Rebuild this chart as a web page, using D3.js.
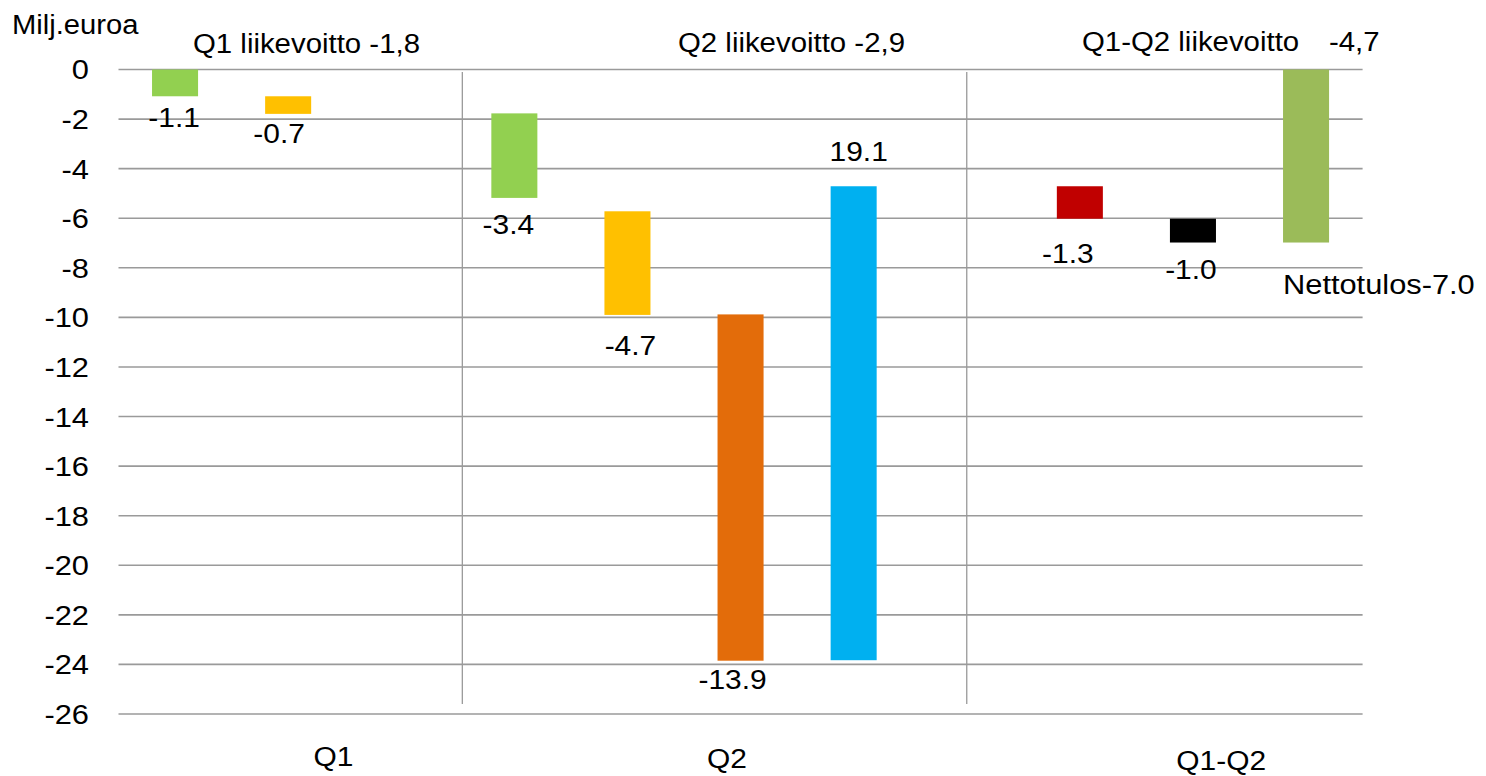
<!DOCTYPE html>
<html><head><meta charset="utf-8">
<script src="https://cdn.jsdelivr.net/npm/d3@7"></script>
<style>
html,body{margin:0;padding:0;background:#fff;}
text{font-family:"Liberation Sans",Arial,sans-serif;fill:#000;}
</style></head>
<body>
<svg id="chart" width="1486" height="776"></svg>
<script>
// ---- data ----
const categories = ["Q1", "Q2", "Q1-Q2"];
const yTicks = [0, -2, -4, -6, -8, -10, -12, -14, -16, -18, -20, -22, -24, -26];
const barSlot  = [0, 1, 3, 4, 5, 6, 8, 9, 10];
const barStart = [0, -1.08, -1.77, -5.72, -9.88, -23.83, -4.71, -6.02, 0];
const barEnd   = [-1.08, -1.79, -5.18, -9.9, -23.85, -4.71, -6.02, -6.98, -6.98];
const barLabels = ["-1.1", "-0.7", "-3.4", "-4.7", "-13.9", "19.1", "-1.3", "-1.0", "Nettotulos-7.0"];
const barColors = ["#92D050", "#FFC000", "#92D050", "#FFC000", "#E36C0A", "#00B0F0", "#C00000", "#000000", "#9BBB59"];
const periodTitles = ["Q1 liikevoitto -1,8", "Q2 liikevoitto -2,9", "Q1-Q2 liikevoitto", "-4,7"];
const unitLabel = "Milj.euroa";

// ---- layout (not data) ----
const nSlots = 11;
const separatorSlots = [3.04, 7.5];
const categorySlots = [1.9, 5.38, 9.75];
const categoryBaselines = [766, 768, 770];
const labelDx = [-1, -9, -6, 3, -8, 5, -12, -2, 0];
const labelDy = [31, 29, 36, 40, 28, -25, 44, 36, 51];
const titleX = [193, 678, 1082, 1329];
const titleY = [53, 52, 51, 51];
const FS = 28, SX = 1.07;

const svg = d3.select("#chart");
const x0 = 118.5, x1 = 1362.6;
const xLin = d3.scaleLinear().domain([0, nSlots]).range([x0, x1]);
const x = d3.scaleBand().domain(d3.range(nSlots)).range([x0, x1])
  .paddingInner(0.593).paddingOuter(0.2965);
const y = d3.scaleLinear().domain([0, -26]).range([69.5, 714]);

function txt(g, s, tx, ty, anchor, size, sx) {
  return g.append("text")
    .attr("transform", `translate(${tx},${ty}) scale(${sx || SX},1)`)
    .attr("text-anchor", anchor || "start")
    .style("font-size", (size || FS) + "px")
    .text(s);
}

// gridlines
svg.append("g").selectAll("line").data(yTicks).join("line")
  .attr("x1", x0).attr("x2", x1)
  .attr("y1", d => y(d)).attr("y2", d => y(d))
  .attr("stroke", "#9a9a9a").attr("stroke-width", 1.6);

// separators
svg.append("g").selectAll("line").data(separatorSlots).join("line")
  .attr("x1", d => xLin(d)).attr("x2", d => xLin(d))
  .attr("y1", y(-0.1)).attr("y2", y(-25.6))
  .attr("stroke", "#9a9a9a").attr("stroke-width", 1.3);

// y axis tick labels
const yl = svg.append("g");
yTicks.forEach(t => {
  txt(yl, String(t), 89, y(t), "end", FS, 1.1).attr("dominant-baseline", "central");
});

// bars
const bars = barSlot.map((s, i) => ({slot: s, a: barStart[i], b: barEnd[i], label: barLabels[i], color: barColors[i], i}));
svg.append("g").selectAll("rect").data(bars).join("rect")
  .attr("x", d => x(d.slot)).attr("width", x.bandwidth())
  .attr("y", d => y(Math.max(d.a, d.b)))
  .attr("height", d => Math.abs(y(d.a) - y(d.b)))
  .attr("fill", d => d.color);

// bar labels
const bl = svg.append("g");
bars.forEach(d => {
  const last = d.i === bars.length - 1;
  const ref = labelDy[d.i] < 0 ? y(Math.max(d.a, d.b)) : y(Math.min(d.a, d.b));
  const cx = last ? x(d.slot) : x(d.slot) + x.bandwidth() / 2 + labelDx[d.i];
  txt(bl, d.label, cx, ref + labelDy[d.i], last ? "start" : "middle", FS, last ? 1.1 : SX);
});

// titles
const tl = svg.append("g");
periodTitles.forEach((t, i) => txt(tl, t, titleX[i], titleY[i], "start", FS, 1.05));
txt(tl, unitLabel, 12, 34, "start", 27, 1.08);

// category labels
const cl = svg.append("g");
categories.forEach((c, i) => txt(cl, c, xLin(categorySlots[i]), categoryBaselines[i], "middle"));
</script>
</body></html>
